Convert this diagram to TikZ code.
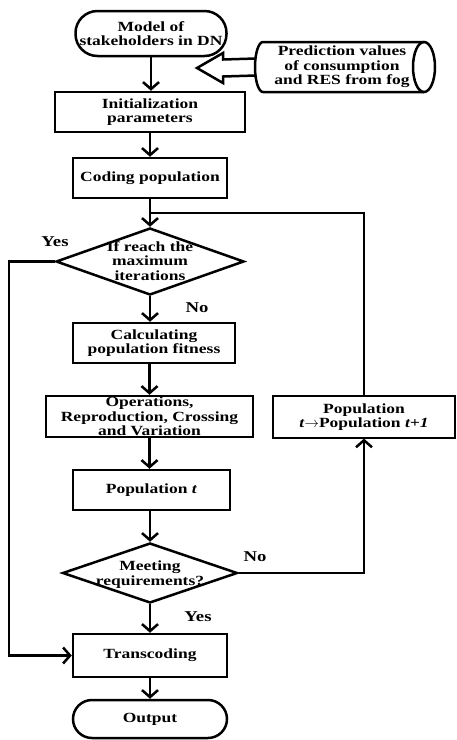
\documentclass[tikz,border=0pt]{standalone}
\usepackage{fontspec}
\setmainfont{Liberation Serif}[FakeStretch=1.25]
\usetikzlibrary{arrows.meta,shapes.geometric,calc}
\begin{document}
\begin{tikzpicture}[x=1pt,y=-1pt,
  txt/.style={font=\bfseries\fontsize{14}{14.5}\selectfont, align=center, inner sep=0pt},
  lbl/.style={font=\bfseries\fontsize{15}{15}\selectfont, inner sep=0pt},
  box/.style={draw, line width=2.5pt, txt, rectangle},
  term/.style={box, rounded corners=#1},
  dia/.style={draw, line width=2.5pt, diamond, inner sep=0pt},
  ln/.style={line width=2.5pt},
  arr/.style={ln, -{Straight Barb[length=7pt,width=16pt]}}
]
\useasboundingbox (0,0) rectangle (456,740);
% nodes
\node[term=22pt, minimum width=151pt, minimum height=45pt] (start) at (151,33.5) {Model of\\stakeholders in DN};
\node[txt, minimum width=161pt, minimum height=50pt] (cyl) at (342,67) {Prediction values\\of consumption\\and RES from fog};
\node[box, minimum width=190pt, minimum height=40pt] (init) at (150,112) {Initialization\\parameters};
\node[box, minimum width=154pt, minimum height=40pt] (coding) at (150,178) {Coding population};
\node[dia, minimum width=188pt, minimum height=67pt] (d1) at (150,261.5) {};
\node[txt] (d1t) at (150,261) {If reach the\\maximum\\iterations};
\node[box, minimum width=162pt, minimum height=40pt] (calc) at (154,343) {Calculating\\population fitness};
\node[box, minimum width=207pt, minimum height=41pt] (ops) at (149.5,416.5) {Operations,\\Reproduction, Crossing\\and Variation};
\node[box, minimum width=157pt, minimum height=40pt] (popt) at (151.5,490) {Population \textit{t}};
\node[dia, minimum width=175pt, minimum height=60pt] (d2) at (150,573) {};
\node[txt] (d2t) at (150,574.5) {Meeting\\requirements?};
\node[box, minimum width=154pt, minimum height=43pt] (trans) at (150,655.5) {Transcoding};
\node[term=19pt, minimum width=154pt, minimum height=38pt] (out) at (150,719) {Output};
\node[draw, line width=1.2pt, txt, minimum width=182pt, minimum height=42pt] (pt1) at (364,417) {Population\\\textit{t}$\rightarrow$Population \textit{t+1}};
% cylinder outline (left half-ellipse, body, right ellipse)
\draw[line width=2.5pt] (424,42) -- (263,42) arc[start angle=90, end angle=270, x radius=8pt, y radius=25pt] -- (424,92);
\draw[line width=2.5pt] (424,67) ellipse [x radius=11pt, y radius=25pt];
\coordinate (cylw) at (255.5,67);
% labels
\node[lbl] (yes1) at (55,242) {Yes};
\node[lbl] (no1) at (197,308) {No};
\node[lbl] (no2) at (255,557) {No};
\node[lbl] (yes2) at (198,617) {Yes};
% coordinates
\coordinate (tip) at (197,68);
\coordinate (merge) at (150,213);
\coordinate (lft) at (9,261.5);
% block arrow
\draw[line width=2.5pt, line join=miter] ($(cylw)+(0,-8.5)$) -- ($(tip)+(26,-8.5)$) -- ($(tip)+(26,-15)$) -- (tip) -- ($(tip)+(26,15)$) -- ($(tip)+(26,8.5)$) -- ($(cylw)+(0,8.5)$);
% connectors
\draw[arr] (start) -- (start.south |- init.north);
\draw[arr] (init) -- (coding);
\draw[arr] (coding) -- (d1.north);
\draw[ln] (pt1.north) |- (merge);
\draw[arr] (d1.south) -- (d1.south |- calc.north);
\draw[arr] (ops.north |- calc.south) -- (ops.north);
\draw[arr] (ops.south) -- (ops.south |- popt.north);
\draw[arr] (d2.north |- popt.south) -- (d2.north);
\draw[arr] (d2.south) -- (trans.north);
\draw[arr] (trans) -- (out);
\draw[arr] (d1.west) -- (lft) |- (trans.west);
\draw[arr] (d2.east) -| (pt1.south);
\end{tikzpicture}
\end{document}
